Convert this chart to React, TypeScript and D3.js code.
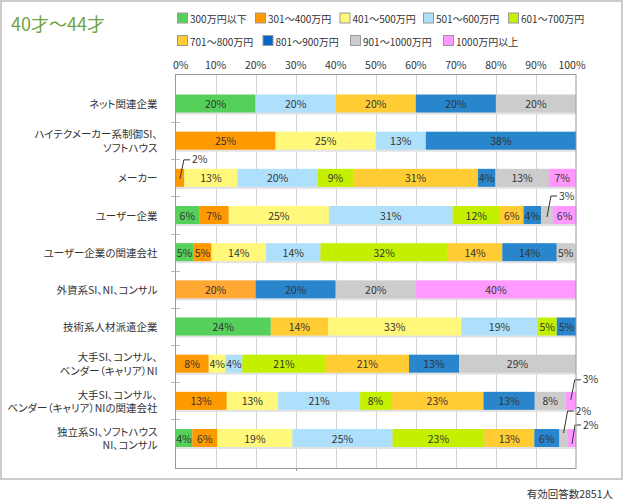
import React from "react";
import * as d3 from "d3";

// ---------- data ----------
const title = "40才～44才";
const footer = "有効回答数2851人";

const brackets = [
  "300万円以下",
  "301～400万円",
  "401～500万円",
  "501～600万円",
  "601～700万円",
  "701～800万円",
  "801～900万円",
  "901～1000万円",
  "1000万円以上",
];

const legendColors = ["#55d05a", "#ff9900", "#fff87a", "#aee0fc", "#c4f000", "#ffcc33", "#0866c6", "#cccccc", "#ff99ff"];
const barColors = ["#55d05a", "#ff9900", "#fff87a", "#aee0fc", "#c4f000", "#ffcc33", "#2a86cc", "#cccccc", "#ff99ff"];

const categoryLines: string[][] = [
  ["ネット関連企業"],
  ["ハイテクメーカー系制御SI、", "ソフトハウス"],
  ["メーカー"],
  ["ユーザー企業"],
  ["ユーザー企業の関連会社"],
  ["外資系SI、NI、コンサル"],
  ["技術系人材派遣企業"],
  ["大手SI、コンサル、", "ベンダー（キャリア）NI"],
  ["大手SI、コンサル、", "ベンダー（キャリア）NIの関連会社"],
  ["独立系SI、ソフトハウス", "NI、コンサル"],
];

// each row: [bracket index, percent] in drawing order
const rowNet = [[0, 20], [3, 20], [5, 20], [6, 20], [7, 20]];
const rowHitech = [[1, 25], [2, 25], [3, 12.5], [6, 37.5]];
const rowMaker = [[1, 2.2], [2, 13.3], [3, 20], [4, 8.9], [5, 31.1], [6, 4.4], [7, 13.3], [8, 6.7]];
const rowUser = [[0, 5.9], [1, 7.4], [2, 25], [3, 30.9], [4, 11.8], [5, 5.9], [6, 4.4], [7, 2.9], [8, 5.9]];
const rowUserRel = [[0, 4.5], [1, 4.5], [2, 13.6], [3, 13.6], [4, 31.8], [5, 13.6], [6, 13.6], [7, 4.5]];
const rowForeign = [[1, 20], [6, 20], [7, 20], [8, 40]];
const rowTech = [[0, 23.8], [5, 14.3], [2, 33.3], [3, 19.0], [4, 4.8], [6, 4.8]];
const rowBigSI = [[1, 8.3], [2, 4.2], [3, 4.2], [4, 20.8], [5, 20.8], [6, 12.5], [7, 29.2]];
const rowBigSIRel = [[1, 12.8], [2, 12.8], [3, 20.5], [4, 7.7], [5, 23.1], [6, 12.8], [7, 7.7], [8, 2.6]];
const rowIndep = [[0, 4.2], [1, 6.25], [2, 18.75], [3, 25], [4, 22.9], [5, 12.5], [6, 6.25], [7, 2.1], [8, 2.1]];

const rows = [rowNet, rowHitech, rowMaker, rowUser, rowUserRel, rowForeign, rowTech, rowBigSI, rowBigSIRel, rowIndep];

const axisTicks = [0, 10, 20, 30, 40, 50, 60, 70, 80, 90, 100];

// ---------- styling / layout ----------
const colorOverrides: Record<string, string> = { "5-0": "#ffa833" };
// leader lines for small segments: offsets relative to the bar centre
const leaders: Record<string, { dy1: number; dy2: number; dx: number }> = {
  "2-0": { dy1: 1, dy2: -18, dx: 4 },
  "3-7": { dy1: 2, dy2: -19, dx: 4 },
  "8-7": { dy1: -1, dy2: -21, dx: 4 },
  "9-7": { dy1: -5, dy2: -27, dx: 4 },
  "9-8": { dy1: 6, dy2: -13, dx: 3 },
};

const legendPos = [
  [177, 18.5], [255, 18.5], [339.5, 18.5], [423, 18.5], [508, 18.5],
  [177, 41], [262.5, 41], [350, 41], [443, 41],
];

const W = 624;
const H = 500;
const plot = { left: 175.5, right: 576, top: 74, bottom: 468 };
const barH = 18;
const FONT = "'Noto Sans CJK JP', 'Noto Sans', sans-serif";

export default function App() {
  const x = d3.scaleLinear().domain([0, 100]).range([plot.left, plot.right]);
  const y = d3
    .scalePoint<number>()
    .domain(d3.range(categoryLines.length))
    .range([103.5, 438]);

  return (
    <svg
      width={W}
      height={H}
      style={{ position: "absolute", left: 0, top: 0, fontFamily: FONT, fontFeatureSettings: "'palt'" }}
    >
      <rect x={0} y={0} width={W} height={H} fill="#fff" />
      <rect x={1} y={1} width={621} height={478} fill="none" stroke="#cccccc" strokeWidth={2} />

      {/* title */}
      <text x={11} y={23} dominantBaseline="central" fontSize={18} fill="#6fa444">
        {title}
      </text>

      {/* legend */}
      {brackets.map((b, i) => (
        <g key={b} transform={`translate(${legendPos[i][0]},${legendPos[i][1]})`}>
          <rect x={0.5} y={-5.5} width={10} height={10} fill={legendColors[i]} stroke="#999" />
          <text x={13} y={0} dominantBaseline="central" fontSize={10} fill="#333">
            {b}
          </text>
        </g>
      ))}

      {/* axis labels */}
      {axisTicks.map((t) => (
        <text
          key={t}
          x={t === 0 ? x(t) - 2.5 : t === 100 ? x(t) - 4 : x(t)}
          y={64}
          dominantBaseline="central"
          textAnchor={t === 0 ? "start" : "middle"}
          fontSize={10.5}
          fill="#333"
        >
          {t}%
        </text>
      ))}

      {/* gridlines */}
      {axisTicks.slice(1, -1).map((t) => (
        <line
          key={t}
          x1={Math.round(x(t)) + 0.5}
          x2={Math.round(x(t)) + 0.5}
          y1={plot.top}
          y2={plot.bottom}
          stroke="#d4d4d4"
        />
      ))}

      {/* row ticks */}
      {d3.range(1, categoryLines.length).map((i) => (
        <line
          key={i}
          x1={171}
          x2={180}
          y1={Math.round((y(i - 1)! + y(i)!) / 2) + 0.5}
          y2={Math.round((y(i - 1)! + y(i)!) / 2) + 0.5}
          stroke="#bbb"
        />
      ))}

      {/* category labels */}
      {categoryLines.map((lines, i) => (
        <text key={i} fontSize={10.5} fill="#333" textAnchor="end">
          {lines.map((l, j) => (
            <tspan
              key={j}
              x={157.5}
              y={y(i)! + (j - (lines.length - 1) / 2) * 13.5}
              dominantBaseline="central"
            >
              {l}
            </tspan>
          ))}
        </text>
      ))}

      {/* bars */}
      {rows.map((segs, i) => {
        const cy = y(i)!;
        const top = cy - barH / 2;
        const ends = d3.cumsum(segs.map((s) => s[1]));
        return (
          <g key={i}>
            <rect x={x(0)} y={top + 2} width={x(100) - x(0)} height={barH} fill="#e2e2e2" />
            {segs.map((s, j) => {
              const x0 = x(j === 0 ? 0 : ends[j - 1]);
              const x1 = x(ends[j]);
              const key = `${i}-${j}`;
              const fill = colorOverrides[key] ?? barColors[s[0]];
              return <rect key={j} x={x0} y={top} width={x1 - x0} height={barH} fill={fill} />;
            })}
            {segs.map((s, j) => {
              const x0 = x(j === 0 ? 0 : ends[j - 1]);
              const x1 = x(ends[j]);
              const cx = (x0 + x1) / 2;
              const label = `${Math.round(s[1])}%`;
              const ld = leaders[`${i}-${j}`];
              if (ld) {
                const ya = cy + ld.dy1;
                const yb = cy + ld.dy2;
                return (
                  <g key={j}>
                    <polyline
                      points={`${cx},${ya} ${cx + ld.dx},${yb} ${cx + ld.dx + 6},${yb}`}
                      fill="none"
                      stroke="#333"
                    />
                    <text x={cx + ld.dx + 8} y={yb - 1} dominantBaseline="central" fontSize={10.5} fill="#333">
                      {label}
                    </text>
                  </g>
                );
              }
              return (
                <text key={j} x={cx} y={cy} textAnchor="middle" dominantBaseline="central" fontSize={10.5} fill="#333">
                  {label}
                </text>
              );
            })}
          </g>
        );
      })}

      {/* plot frame */}
      <rect
        x={plot.left}
        y={plot.top + 0.5}
        width={plot.right - plot.left}
        height={plot.bottom - plot.top}
        fill="none"
        stroke="#999"
      />
      <line x1={Math.round(x(30)) + 0.5} x2={Math.round(x(30)) + 0.5} y1={plot.bottom} y2={plot.bottom + 3} stroke="#999" />

      {/* footer */}
      <text x={613} y={493} textAnchor="end" dominantBaseline="central" fontSize={10.5} fill="#333">
        {footer}
      </text>
    </svg>
  );
}
